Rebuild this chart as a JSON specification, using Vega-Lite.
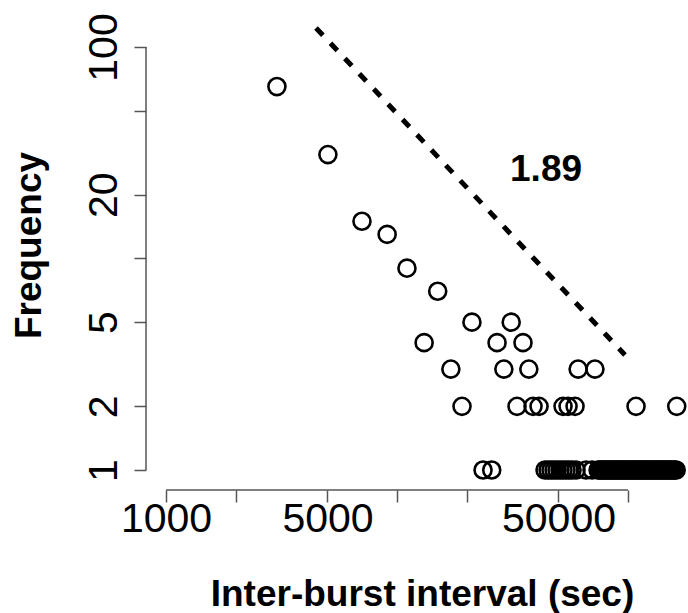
{
  "$schema": "https://vega.github.io/schema/vega-lite/v6.json",
  "width": 542,
  "height": 480,
  "autosize": {"type": "none"},
  "padding": {"left": 146, "top": 10, "right": 0, "bottom": 123},
  "background": "white",
  "config": {
    "view": {"stroke": null},
    "font": "Liberation Sans",
    "axis": {"grid": false, "domain": false}
  },
  "datasets": {
    "points": [
      {"interval": 3020, "frequency": 65},
      {"interval": 5020, "frequency": 31},
      {"interval": 7050, "frequency": 15},
      {"interval": 9060, "frequency": 13},
      {"interval": 11040, "frequency": 9},
      {"interval": 15000, "frequency": 7},
      {"interval": 21100, "frequency": 5},
      {"interval": 31200, "frequency": 5},
      {"interval": 13100, "frequency": 4},
      {"interval": 27100, "frequency": 4},
      {"interval": 35100, "frequency": 4},
      {"interval": 17100, "frequency": 3},
      {"interval": 29000, "frequency": 3},
      {"interval": 37200, "frequency": 3},
      {"interval": 60800, "frequency": 3},
      {"interval": 71900, "frequency": 3},
      {"interval": 19110, "frequency": 2},
      {"interval": 33070, "frequency": 2},
      {"interval": 38790, "frequency": 2},
      {"interval": 41190, "frequency": 2},
      {"interval": 52310, "frequency": 2},
      {"interval": 55000, "frequency": 2},
      {"interval": 58970, "frequency": 2},
      {"interval": 108300, "frequency": 2},
      {"interval": 162500, "frequency": 2},
      {"interval": 23570, "frequency": 1},
      {"interval": 25700, "frequency": 1},
      {"interval": 43720, "frequency": 1},
      {"interval": 45060, "frequency": 1},
      {"interval": 46410, "frequency": 1},
      {"interval": 47830, "frequency": 1},
      {"interval": 49270, "frequency": 1},
      {"interval": 50770, "frequency": 1},
      {"interval": 52310, "frequency": 1},
      {"interval": 53900, "frequency": 1},
      {"interval": 55540, "frequency": 1},
      {"interval": 57230, "frequency": 1},
      {"interval": 59550, "frequency": 1},
      {"interval": 65800, "frequency": 1},
      {"interval": 69860, "frequency": 1},
      {"interval": 74200, "frequency": 1},
      {"interval": 75300, "frequency": 1},
      {"interval": 76400, "frequency": 1},
      {"interval": 77600, "frequency": 1},
      {"interval": 78800, "frequency": 1},
      {"interval": 80000, "frequency": 1},
      {"interval": 81200, "frequency": 1},
      {"interval": 82400, "frequency": 1},
      {"interval": 83600, "frequency": 1},
      {"interval": 84900, "frequency": 1},
      {"interval": 86200, "frequency": 1},
      {"interval": 87500, "frequency": 1},
      {"interval": 88800, "frequency": 1},
      {"interval": 90100, "frequency": 1},
      {"interval": 91500, "frequency": 1},
      {"interval": 92900, "frequency": 1},
      {"interval": 94300, "frequency": 1},
      {"interval": 95700, "frequency": 1},
      {"interval": 97100, "frequency": 1},
      {"interval": 98600, "frequency": 1},
      {"interval": 100100, "frequency": 1},
      {"interval": 101600, "frequency": 1},
      {"interval": 103100, "frequency": 1},
      {"interval": 104700, "frequency": 1},
      {"interval": 106300, "frequency": 1},
      {"interval": 107900, "frequency": 1},
      {"interval": 109500, "frequency": 1},
      {"interval": 111100, "frequency": 1},
      {"interval": 112800, "frequency": 1},
      {"interval": 114500, "frequency": 1},
      {"interval": 116200, "frequency": 1},
      {"interval": 118000, "frequency": 1},
      {"interval": 119800, "frequency": 1},
      {"interval": 121600, "frequency": 1},
      {"interval": 123400, "frequency": 1},
      {"interval": 125300, "frequency": 1},
      {"interval": 127200, "frequency": 1},
      {"interval": 129100, "frequency": 1},
      {"interval": 131000, "frequency": 1},
      {"interval": 133000, "frequency": 1},
      {"interval": 135000, "frequency": 1},
      {"interval": 137000, "frequency": 1},
      {"interval": 139100, "frequency": 1},
      {"interval": 141200, "frequency": 1},
      {"interval": 143300, "frequency": 1},
      {"interval": 145500, "frequency": 1},
      {"interval": 147700, "frequency": 1},
      {"interval": 149900, "frequency": 1},
      {"interval": 152200, "frequency": 1},
      {"interval": 154500, "frequency": 1},
      {"interval": 156800, "frequency": 1},
      {"interval": 159200, "frequency": 1},
      {"interval": 161600, "frequency": 1}
    ],
    "axislines": [
      {"interval": 1000, "interval2": 100000, "frequency": 0.8042, "frequency2": 0.8042},
      {"interval": 819, "interval2": 819, "frequency": 1, "frequency2": 100}
    ],
    "fit": [
      {"interval": 4460, "interval2": 97000, "frequency": 123, "frequency2": 3.5}
    ],
    "annotation": [
      {"interval": 44160, "frequency": 23.3, "label": "1.89"}
    ]
  },
  "encoding": {
    "x": {
      "field": "interval",
      "type": "quantitative",
      "scale": {"type": "log", "domain": [819, 181800], "nice": false, "zero": false},
      "axis": {
        "title": "Inter-burst interval (sec)",
        "values": [1000, 2000, 5000, 10000, 20000, 50000, 100000],
        "labelExpr": "datum.value == 1000 || datum.value == 5000 || datum.value == 50000 ? format(datum.value, 'd') : ''",
        "labelOverlap": false,
        "labelFlush": false,
        "labelFontSize": 41,
        "labelColor": "black",
        "labelPadding": -3,
        "tickSize": 12,
        "tickWidth": 1.5,
        "tickColor": "#555555",
        "titleFontSize": 37,
        "titleFontWeight": "bold",
        "titleColor": "black",
        "titleBaseline": "alphabetic",
        "titleX": 276,
        "titleY": 115
      }
    },
    "y": {
      "field": "frequency",
      "type": "quantitative",
      "scale": {"type": "log", "domain": [0.8042, 149.6], "nice": false, "zero": false},
      "axis": {
        "title": "Frequency",
        "values": [1, 2, 5, 10, 20, 50, 100],
        "labelExpr": "datum.value == 10 || datum.value == 50 ? '' : format(datum.value, 'd')",
        "labelOverlap": false,
        "labelFlush": false,
        "labelAngle": -90,
        "labelAlign": "center",
        "labelBaseline": "alphabetic",
        "labelFontSize": 41,
        "labelColor": "black",
        "labelPadding": 18,
        "tickSize": 12,
        "tickWidth": 1.5,
        "tickColor": "#555555",
        "titleFontSize": 37,
        "titleFontWeight": "bold",
        "titleColor": "black",
        "titleBaseline": "alphabetic",
        "titleAngle": -90,
        "titleX": -106,
        "titleY": 235
      }
    }
  },
  "layer": [
    {
      "data": {"name": "axislines"},
      "mark": {"type": "rule", "color": "#555555", "strokeWidth": 1.5},
      "encoding": {
        "x2": {"field": "interval2"},
        "y2": {"field": "frequency2"}
      }
    },
    {
      "data": {"name": "fit"},
      "mark": {"type": "rule", "color": "black", "strokeWidth": 5, "strokeDash": [10, 11]},
      "encoding": {
        "x2": {"field": "interval2"},
        "y2": {"field": "frequency2"}
      }
    },
    {
      "data": {"name": "points"},
      "mark": {"type": "point", "shape": "circle", "filled": false, "stroke": "black", "strokeWidth": 2.6, "size": 290, "opacity": 1}
    },
    {
      "data": {"name": "annotation"},
      "mark": {"type": "text", "fontSize": 37, "fontWeight": "bold", "align": "center", "baseline": "alphabetic", "color": "black"},
      "encoding": {"text": {"field": "label"}}
    }
  ]
}
